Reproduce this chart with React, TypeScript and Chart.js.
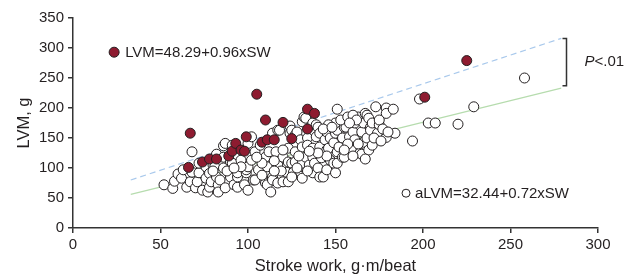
import React, { useEffect, useRef } from "react";
import { Chart, registerables } from "chart.js";

Chart.register(...registerables);

const xTicks = [0, 50, 100, 150, 200, 250, 300];
const yTicks = [0, 50, 100, 150, 200, 250, 300, 350];

const whiteSW = [
  52, 57, 58, 60, 62, 63, 65, 67, 68, 68, 70, 71, 72, 72, 74, 76, 76, 77, 78, 78,
  79, 80, 81, 82, 83, 83, 84, 82, 86, 86, 86, 87, 87, 90, 90, 91, 91, 92, 94, 94,
  94, 96, 98, 99, 99, 100, 100, 100, 102, 102, 103, 104, 104, 106, 107, 110, 110, 111, 111, 112,
  113, 114, 114, 114, 116, 117, 117, 117, 118, 120, 120, 122, 123, 123, 123, 124, 124, 125, 125, 126,
  127, 127, 127, 128, 130, 130, 131, 131, 131, 131, 131, 132, 133, 133, 134, 134, 135, 137, 137, 137,
  137, 138, 139, 139, 140, 140, 141, 141, 141, 142, 143, 144, 145, 145, 145, 146, 147, 147, 149, 149,
  150, 150, 151, 151, 151, 151, 152, 154, 154, 155, 155, 156, 158, 159, 160, 161, 161, 163, 164, 165,
  165, 166, 166, 167, 168, 168, 169, 169, 170, 170, 171, 171, 173, 174, 175, 179, 179, 179, 183, 184,
  194, 198, 203, 207, 220, 229, 258,
  150, 153, 157, 160, 146, 143, 148, 162, 158, 175, 177, 172, 176, 180, 163, 157, 155, 160, 167, 145,
  140, 135, 129, 120, 115, 108, 105, 96, 88, 80, 92, 119, 115, 108, 125, 134, 128,
];
const whiteLVM = [
  72, 66, 78, 90, 83, 97, 68, 77, 127, 93, 67, 77, 92, 108, 63, 102, 83, 60, 91, 68,
  77, 105, 102, 85, 72, 60, 80, 123, 137, 118, 100, 141, 67, 110, 85, 138, 108, 72, 68, 85,
  92, 113, 72, 92, 97, 102, 141, 63, 152, 113, 80, 127, 80, 97, 138, 118, 75, 102, 72, 127,
  60, 158, 85, 80, 127, 163, 105, 75, 163, 118, 77, 93, 110, 77, 133, 158, 170, 163, 108, 93,
  127, 110, 155, 160, 147, 93, 135, 102, 83, 108, 177, 185, 118, 183, 150, 138, 105, 133, 118, 175,
  92, 108, 152, 172, 100, 168, 135, 158, 85, 117, 85, 147, 160, 97, 130, 133, 113, 150, 142, 108,
  92, 158, 127, 108, 163, 198, 135, 150, 118, 168, 118, 168, 152, 130, 160, 175, 147, 185, 125, 160,
  123, 175, 143, 191, 188, 150, 183, 130, 168, 163, 175, 138, 202, 158, 172, 200, 191, 151, 198, 158,
  145, 215, 175, 175, 173, 202, 250,
  175, 180, 185, 188, 172, 165, 168, 180, 175, 180, 165, 150, 145, 160, 140, 140, 130, 120, 115, 120,
  125, 128, 120, 130, 112, 108, 118, 102, 95, 95, 100, 95, 95, 88, 85, 95, 100,
];

const redSW = [66, 67, 74, 78, 82, 89, 91, 93, 96, 98, 99, 105, 108, 110, 111, 115, 120, 125, 134, 138, 134, 201, 225];
const redLVM = [101, 158, 110, 115, 115, 120, 128, 141, 130, 128, 152, 223, 143, 180, 147, 147, 176, 149, 198, 191, 165, 218, 279];

const upperLineSW = [33, 279];
const upperLineLVM = [80, 316];
const lowerLineSW = [33, 279];
const lowerLineLVM = [56, 233];

const upperLabel = "LVM=48.29+0.96xSW";
const lowerLabel = "aLVM=32.44+0.72xSW";
const xTitle = "Stroke work, g\u00b7m/beat";
const yTitle = "LVM, g";

const FONT = '"Liberation Sans", Arial, Helvetica, sans-serif';
const INK = "#231f20";
const RED = "#8e1b30";

const toPts = (xs: number[], ys: number[]) => xs.map((v, i) => ({ x: v, y: ys[i] }));

const annotPlugin = {
  id: "annot",
  afterDatasetsDraw(chart: any) {
    const { ctx, scales } = chart;
    const x = scales.x;
    const y = scales.y;
    ctx.save();
    const l1x = x.getPixelForValue(23.5);
    const l1y = y.getPixelForValue(293);
    ctx.beginPath();
    ctx.arc(l1x, l1y, 5, 0, Math.PI * 2);
    ctx.fillStyle = RED;
    ctx.fill();
    ctx.lineWidth = 1;
    ctx.strokeStyle = INK;
    ctx.stroke();
    ctx.font = `15px ${FONT}`;
    ctx.fillStyle = INK;
    ctx.textBaseline = "middle";
    ctx.textAlign = "left";
    ctx.fillText(upperLabel, l1x + 11, l1y + 1);
    const l2x = x.getPixelForValue(190.3);
    const l2y = y.getPixelForValue(58);
    ctx.beginPath();
    ctx.arc(l2x, l2y, 4, 0, Math.PI * 2);
    ctx.fillStyle = "#fff";
    ctx.fill();
    ctx.stroke();
    ctx.fillStyle = INK;
    ctx.fillText(lowerLabel, l2x + 9, l2y + 1);
    const bx = x.getPixelForValue(282);
    const bt = y.getPixelForValue(316);
    const bb = y.getPixelForValue(237);
    ctx.beginPath();
    ctx.lineWidth = 1.5;
    ctx.strokeStyle = "#333";
    ctx.moveTo(bx - 4, bt);
    ctx.lineTo(bx, bt);
    ctx.lineTo(bx, bb);
    ctx.lineTo(bx - 4, bb);
    ctx.stroke();
    const py = (bt + bb) / 2;
    ctx.font = `italic 15px ${FONT}`;
    ctx.fillText("P", bx + 18, py);
    const pw = ctx.measureText("P").width;
    ctx.font = `15px ${FONT}`;
    ctx.fillText("<.01", bx + 18 + pw, py);
    ctx.restore();
  },
};

export default function App() {
  const ref = useRef<HTMLCanvasElement | null>(null);
  useEffect(() => {
    document.body.style.margin = "0";
    const canvas = ref.current;
    if (!canvas) return;
    const chart = new Chart(canvas, {
      type: "scatter",
      data: {
        datasets: [
          {
            type: "line",
            data: toPts(upperLineSW, upperLineLVM),
            borderColor: "#a9c9ec",
            borderWidth: 1.2,
            borderDash: [6, 4],
            pointRadius: 0,
            fill: false,
            order: 4,
          } as any,
          {
            type: "line",
            data: toPts(lowerLineSW, lowerLineLVM),
            borderColor: "#b6dcae",
            borderWidth: 1.2,
            pointRadius: 0,
            fill: false,
            order: 3,
          } as any,
          {
            data: toPts(whiteSW, whiteLVM),
            backgroundColor: "#ffffff",
            borderColor: INK,
            borderWidth: 1,
            pointRadius: 5,
            order: 2,
          },
          {
            data: toPts(redSW, redLVM),
            backgroundColor: RED,
            borderColor: INK,
            borderWidth: 1,
            pointRadius: 5,
            order: 1,
          },
        ],
      },
      options: {
        animation: false,
        responsive: false,
        maintainAspectRatio: false,
        layout: { padding: { left: 0, right: 35, top: 18, bottom: 0 } },
        plugins: { legend: { display: false }, tooltip: { enabled: false } },
        scales: {
          x: {
            type: "linear",
            min: 0,
            max: 300,
            afterBuildTicks: (s: any) => {
              s.ticks = xTicks.map((v) => ({ value: v }));
            },
            afterFit: (s: any) => {
              s.height = 48;
            },
            ticks: { color: INK, font: { size: 15, family: FONT }, padding: 3 },
            grid: { drawOnChartArea: false, drawTicks: true, tickLength: 5, color: "#333", lineWidth: 1.5 },
            border: { color: "#333", width: 1.5 },
            title: { display: true, text: xTitle, color: INK, font: { size: 16.5, family: FONT }, padding: { top: 0, bottom: 0 } },
          },
          y: {
            type: "linear",
            min: 0,
            max: 350,
            afterBuildTicks: (s: any) => {
              s.ticks = yTicks.map((v) => ({ value: v }));
            },
            afterFit: (s: any) => {
              s.width = 73;
            },
            ticks: { color: INK, font: { size: 15, family: FONT }, padding: 4 },
            grid: { drawOnChartArea: false, drawTicks: true, tickLength: 5, color: "#333", lineWidth: 1.5 },
            border: { color: "#333", width: 1.5 },
            title: { display: true, text: yTitle, color: INK, font: { size: 16.5, family: FONT }, padding: { top: 15, bottom: 0 } },
          },
        },
      },
      plugins: [annotPlugin],
    });
    return () => chart.destroy();
  }, []);
  return (
    <div style={{ width: 633, height: 276, position: "relative" }}>
      <canvas ref={ref} width={633} height={276} style={{ display: "block", width: 633, height: 276 }} />
    </div>
  );
}
